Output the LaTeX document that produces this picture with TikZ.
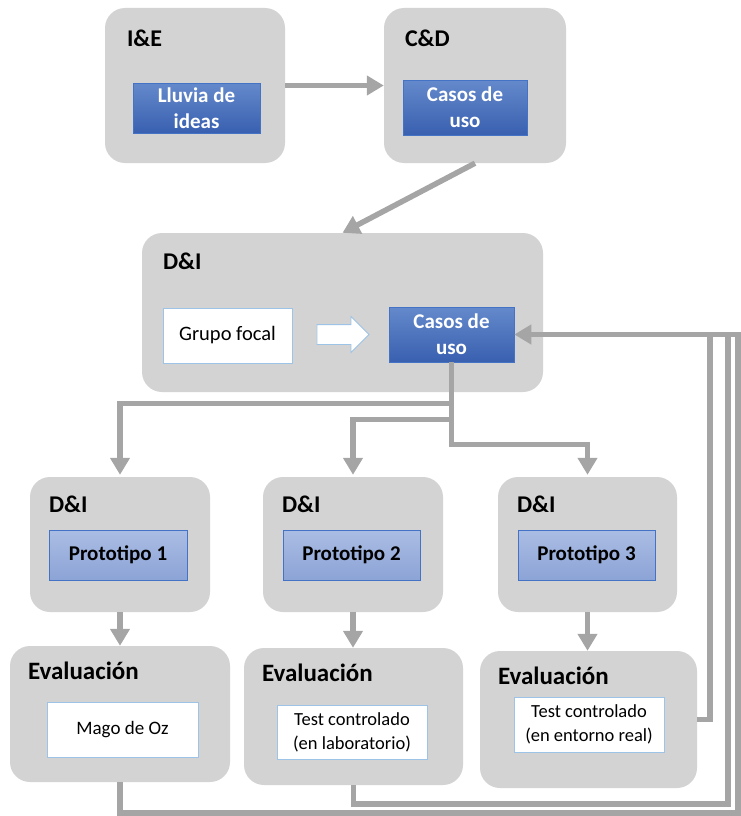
\documentclass[tikz,border=0pt]{standalone}
\usepackage{fontspec}
\setmainfont{Carlito}
\usetikzlibrary{arrows.meta,shapes.arrows}
\definecolor{fgris}{HTML}{D3D3D3}
\definecolor{lgris}{HTML}{A5A5A5}
\definecolor{azultop}{HTML}{6489CB}
\definecolor{azulbot}{HTML}{3960B0}
\definecolor{azulborde}{HTML}{4472C4}
\definecolor{clarotop}{HTML}{AABDE3}
\definecolor{clarobot}{HTML}{8CA3D6}
\definecolor{bordeclaro}{HTML}{9DC3E6}

\begin{document}
\begin{tikzpicture}[x=1pt, y=-1pt,
  etapa/.style={fill=fgris, rounded corners=20pt, inner sep=0pt},
  titulo/.style={anchor=base west, inner sep=0pt, font=\fontsize{24}{28}\selectfont\bfseries},
  tecnica/.style={draw=azulborde, line width=0.6pt, top color=azultop, bottom color=azulbot, text=white, align=center, inner sep=0pt, font=\fontsize{21}{26}\selectfont\bfseries},
  proto/.style={draw=azulborde, line width=0.6pt, top color=clarotop, bottom color=clarobot, inner sep=0pt, font=\fontsize{21}{26}\selectfont\bfseries},
  blanco/.style={draw=bordeclaro, line width=0.8pt, fill=white, align=center, inner sep=0pt},
  linea/.style={draw=lgris, line width=5.5pt},
  flecha/.style={linea, -{Triangle[length=17pt,width=19pt]}}]
  \useasboundingbox (0,0) rectangle (741,816);

  % fases superiores
  \node[etapa, minimum width=180, minimum height=155] (ie) at (195,85.5) {};
  \node[etapa, minimum width=182, minimum height=155] (cd) at (475,85.5) {};
  \node[titulo] (ie-t) at ([shift={(22,39)}]ie.north west) {I\&E};
  \node[titulo] (cd-t) at ([shift={(21,39)}]cd.north west) {C\&D};
  \node[tecnica, minimum width=127, minimum height=50] (lluvia) at (196.5,108) {Lluvia de\\ideas};
  \node[tecnica, minimum width=124, minimum height=55] (casos1) at (465,107.5) {Casos de\\uso};

  % diseno e implementacion
  \node[etapa, minimum width=401, minimum height=159] (di) at (342.5,312.5) {};
  \node[titulo] (di-t) at ([shift={(21,37)}]di.north west) {D\&I};
  \node[blanco, minimum width=129, minimum height=55, font=\fontsize{20.5}{24}\selectfont] (grupo) at (227.5,335.5) {Grupo focal};
  \node[single arrow, draw=bordeclaro, line width=0.8pt, fill=white, inner xsep=0pt, inner ysep=9.5pt, minimum height=52, single arrow head extend=8pt] (paso) at (338,334.5) {};
  \node[tecnica, minimum width=125, minimum height=55] (casos2) at (451.5,334.5) {Casos de\\uso};

  % prototipos
  \node[etapa, minimum width=180, minimum height=135] (di1) at (120,544.5) {};
  \node[etapa, minimum width=180, minimum height=135] (di2) at (353,544.5) {};
  \node[etapa, minimum width=179, minimum height=135] (di3) at (587.5,544.5) {};
  \node[titulo] (di1-t) at ([shift={(19,36)}]di1.north west) {D\&I};
  \node[titulo] (di2-t) at ([shift={(19,36)}]di2.north west) {D\&I};
  \node[titulo] (di3-t) at ([shift={(19,36)}]di3.north west) {D\&I};
  \node[proto, minimum width=138, minimum height=50] (p1) at (118,555) {Prototipo 1};
  \node[proto, minimum width=137, minimum height=50] (p2) at (351.5,555) {Prototipo 2};
  \node[proto, minimum width=137, minimum height=50] (p3) at (586.5,555) {Prototipo 3};

  % evaluaciones
  \node[etapa, minimum width=220, minimum height=136] (ev1) at (120,714) {};
  \node[etapa, minimum width=219, minimum height=137] (ev2) at (353.5,716.5) {};
  \node[etapa, minimum width=217, minimum height=137] (ev3) at (588.5,719.5) {};
  \node[titulo, font=\fontsize{25}{28}\selectfont\bfseries] (ev1-t) at ([shift={(18,34)}]ev1.north west) {Evaluación};
  \node[titulo, font=\fontsize{25}{28}\selectfont\bfseries] (ev2-t) at ([shift={(18,34)}]ev2.north west) {Evaluación};
  \node[titulo, font=\fontsize{25}{28}\selectfont\bfseries] (ev3-t) at ([shift={(18,34)}]ev3.north west) {Evaluación};
  \node[blanco, minimum width=151, minimum height=55, font=\fontsize{19}{23}\selectfont] (mago) at (122.5,729.5) {Mago de Oz};
  \node[blanco, minimum width=150, minimum height=54, font=\fontsize{18.5}{24}\selectfont] (lab) at (352,732) {Test controlado\\(en laboratorio)};
  \node[blanco, minimum width=150, minimum height=55, font=\fontsize{18.5}{24}\selectfont] (real) at (589,724.5) {Test controlado\\(en entorno real)};

  % conexiones
  \draw[flecha] (ie) -- (cd);
  \draw[flecha] (cd.south) -- (di.north);
  \draw[flecha, shorten >=2pt] (casos2.south) -- ++(0,41) -| (di1.north);
  \draw[flecha, shorten >=2pt] (casos2.south) -- ++(0,57) -| (di2.north);
  \draw[flecha, shorten >=2pt] (casos2.south) -- ++(0,82) -| (di3.north);
  \draw[flecha] (di1.south) -- (ev1.north);
  \draw[flecha] (di2.south) -- (di2.south |- ev2.north);
  \draw[flecha] (di3.south) -- (di3.south |- ev3.north);

  % retorno
  \coordinate (retorno) at (741,334.5);
  \coordinate (esq1) at (738,813);
  \coordinate (esq2) at (728,804);
  \coordinate (esq3) at (710,719.5);
  \draw[linea] (ev1.south) |- (esq1) -- (esq1 |- retorno);
  \draw[linea] (ev2.south) |- (esq2) -- (esq2 |- retorno);
  \draw[linea] (ev3.east) -- (esq3) -- (esq3 |- retorno);
  \draw[flecha] (retorno) -- (casos2.east);
\end{tikzpicture}
\end{document}
